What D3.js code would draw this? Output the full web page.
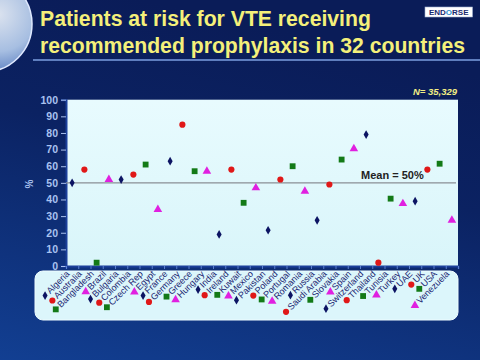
<!DOCTYPE html>
<html>
<head>
<meta charset="utf-8">
<script src="https://cdn.jsdelivr.net/npm/d3@7"></script>
<style>
html,body{margin:0;padding:0;background:#0b2260;}
svg{display:block;}
</style>
</head>
<body>
<svg id="chart" width="480" height="360"></svg>
<script>
// ---- Data ----
const countries = ["Algeria","Australia","Bangladesh","Brazil","Bulgaria","Colombia","Czech Rep","Egypt",
  "France","Germany","Greece","Hungary","India","Ireland","Kuwait","Mexico","Pakistan","Poland",
  "Portugal","Romania","Russia","Saudi Arabia","Slovakia","Spain","Switzerland","Thailand","Tunisia",
  "Turkey","UAE","UK","USA","Venezuela"];
const values = [50,58,2,52,52,55,61,34,63,85,57,57,19,58,38,47,21.5,52,60,45,27.5,49,64,70.5,79,2,40.5,37.5,39,58,61.5,27.5];
const yTicks = [0,10,20,30,40,50,60,70,80,90,100];
const meanValue = 50;
const titleLines = ["Patients at risk for VTE receiving","recommended prophylaxis in 32 countries"];
const nLabel = "N= 35,329";
const meanLabel = "Mean = 50%";

(function(){
// ---- Styles ----
const shapeCycle = [d3.symbolDiamond, d3.symbolCircle, d3.symbolSquare, d3.symbolTriangle];
const sizeCycle = [22, 30, 34, 32];
const colorCycle = ["#0c1463", "#e01818", "#137a17", "#e020e0"];

const svg = d3.select("#chart");
const defs = svg.append("defs");

const bg = defs.append("linearGradient").attr("id","bg").attr("x1",0.3).attr("y1",0).attr("x2",0).attr("y2",1);
bg.append("stop").attr("offset","0%").attr("stop-color","#0a1c58");
bg.append("stop").attr("offset","35%").attr("stop-color","#0b2262");
bg.append("stop").attr("offset","100%").attr("stop-color","#123f92");
const globe = defs.append("radialGradient").attr("id","globe").attr("cx","65%").attr("cy","40%").attr("r","70%");
globe.append("stop").attr("offset","0%").attr("stop-color","#f2f8ff");
globe.append("stop").attr("offset","55%").attr("stop-color","#b8d0f0");
globe.append("stop").attr("offset","100%").attr("stop-color","#4a74c0");
const plotG = defs.append("linearGradient").attr("id","plotbg").attr("x1",0).attr("y1",0).attr("x2",0).attr("y2",1);
plotG.append("stop").attr("offset","0%").attr("stop-color","#e8fbfe");
plotG.append("stop").attr("offset","100%").attr("stop-color","#d9f5fa");

svg.append("rect").attr("width",480).attr("height",360).attr("fill","url(#bg)");

// globe
svg.append("circle").attr("cx",-16).attr("cy",24).attr("r",48).attr("fill","url(#globe)").attr("opacity",0.9);
svg.append("circle").attr("cx",-16).attr("cy",24).attr("r",48).attr("fill","none").attr("stroke","#dfe9ff").attr("stroke-width",1.5);

// title
const title = svg.append("g").attr("font-family","Liberation Sans, Arial, sans-serif")
  .attr("font-weight","bold").attr("fill","#f4f07a").attr("font-size",21.2);
title.selectAll("text").data(titleLines).join("text")
  .attr("x",40).attr("y",(d,i)=> i===0 ? 26 : 52.5).text(d=>d);
svg.append("line").attr("x1",33).attr("x2",480).attr("y1",60).attr("y2",60)
  .attr("stroke","#7d9fe0").attr("stroke-width",1.5);

// logo
svg.append("rect").attr("x",425).attr("y",7).attr("width",47.5).attr("height",10)
  .attr("fill","#ffffff").attr("stroke","#9fb0d0").attr("stroke-width",0.6);
const logo = svg.append("text").attr("x",448.7).attr("y",15.3).attr("text-anchor","middle")
  .attr("font-family","Liberation Sans, Arial, sans-serif").attr("font-weight","bold")
  .attr("font-size",8).attr("fill","#1a2a6e");
logo.append("tspan").text("END");
logo.append("tspan").attr("fill","#2f8fd0").text("O");
logo.append("tspan").text("RSE");

// N label
svg.append("text").attr("x",457).attr("y",94.5).attr("text-anchor","end")
  .attr("font-family","Liberation Sans, Arial, sans-serif").attr("font-weight","bold")
  .attr("font-style","italic").attr("font-size",9.5).attr("fill","#f2ee84").text(nLabel);

// ---- Scales ----
const pLeft = 66, pRight = 458, pTop = 99.7, pBottom = 266;
const x = d3.scaleBand().domain(countries).range([pLeft,pRight]);
const y = d3.scaleLinear().domain([0,100]).range([pBottom,pTop]);

// plot area
svg.append("rect").attr("x",pLeft).attr("y",pTop).attr("width",pRight-pLeft).attr("height",pBottom-pTop)
  .attr("fill","url(#plotbg)");

// y axis
const yAxis = svg.append("g").attr("transform",`translate(${pLeft},0)`)
  .call(d3.axisLeft(y).tickValues(yTicks).tickSize(5).tickPadding(3));
yAxis.select(".domain").attr("stroke","#1b3f9a").attr("stroke-width",2);
yAxis.selectAll(".tick line").attr("stroke","#a9c0ee").attr("stroke-width",1);
yAxis.selectAll(".tick text").attr("fill","#a9c2f0").attr("font-size",10.5)
  .attr("font-weight","bold").attr("font-family","Liberation Sans, Arial, sans-serif");

svg.append("text").attr("transform",`translate(33,184) rotate(-90)`).attr("text-anchor","middle")
  .attr("font-family","Liberation Sans, Arial, sans-serif").attr("font-size",10).attr("font-weight","bold")
  .attr("fill","#a9c2f0").text("%");

// x axis with ticks at band boundaries
const boundaries = countries.map(c=>x(c)).concat([pRight]);
const xAxisScale = d3.scaleLinear().domain([pLeft,pRight]).range([pLeft,pRight]);
const xAxis = svg.append("g").attr("transform",`translate(0,${pBottom})`)
  .call(d3.axisBottom(xAxisScale).tickValues(boundaries).tickSize(3).tickFormat(""));
xAxis.select(".domain").attr("stroke","#1b3f9a").attr("stroke-width",2);
xAxis.selectAll(".tick line").attr("stroke","#5a7fd0").attr("stroke-width",1);

// mean line
svg.append("line").attr("x1",pLeft).attr("x2",456).attr("y1",y(meanValue)).attr("y2",y(meanValue))
  .attr("stroke","#8a8f96").attr("stroke-width",1.4);
svg.append("text").attr("x",361).attr("y",y(meanValue)-4)
  .attr("font-family","Liberation Sans, Arial, sans-serif").attr("font-weight","bold")
  .attr("font-size",11).attr("fill","#222").text(meanLabel);

// points
svg.append("g").selectAll("path").data(countries).join("path")
  .attr("transform",(d,i)=>`translate(${x(d)+x.bandwidth()/2},${y(values[i])})`)
  .attr("d",(d,i)=>d3.symbol().type(shapeCycle[i%4]).size(sizeCycle[i%4])())
  .attr("fill",(d,i)=>colorCycle[i%4]);

// legend box
svg.append("rect").attr("x",35).attr("y",271).attr("width",423).attr("height",49).attr("rx",8)
  .attr("fill","#dcf6fb").attr("stroke","#eefcff").attr("stroke-width",1);

const leg = svg.append("g").attr("font-family","Liberation Sans, Arial, sans-serif")
  .attr("font-size",9).attr("fill","#1a2470");
countries.forEach((c,i)=>{
  const ax = x(c)+x.bandwidth()/2 - 2, ay = 274.5;
  const t = leg.append("text").attr("text-anchor","end")
    .attr("transform",`translate(${ax},${ay}) rotate(-45)`).text(c);
  const L = t.node().getComputedTextLength();
  const off = (L+6)*Math.SQRT1_2;
  leg.append("path")
    .attr("transform",`translate(${ax-off-1},${ay+off-3})`)
    .attr("d",d3.symbol().type(shapeCycle[i%4]).size(sizeCycle[i%4])())
    .attr("fill",colorCycle[i%4]);
});
})();
</script>
</body>
</html>
